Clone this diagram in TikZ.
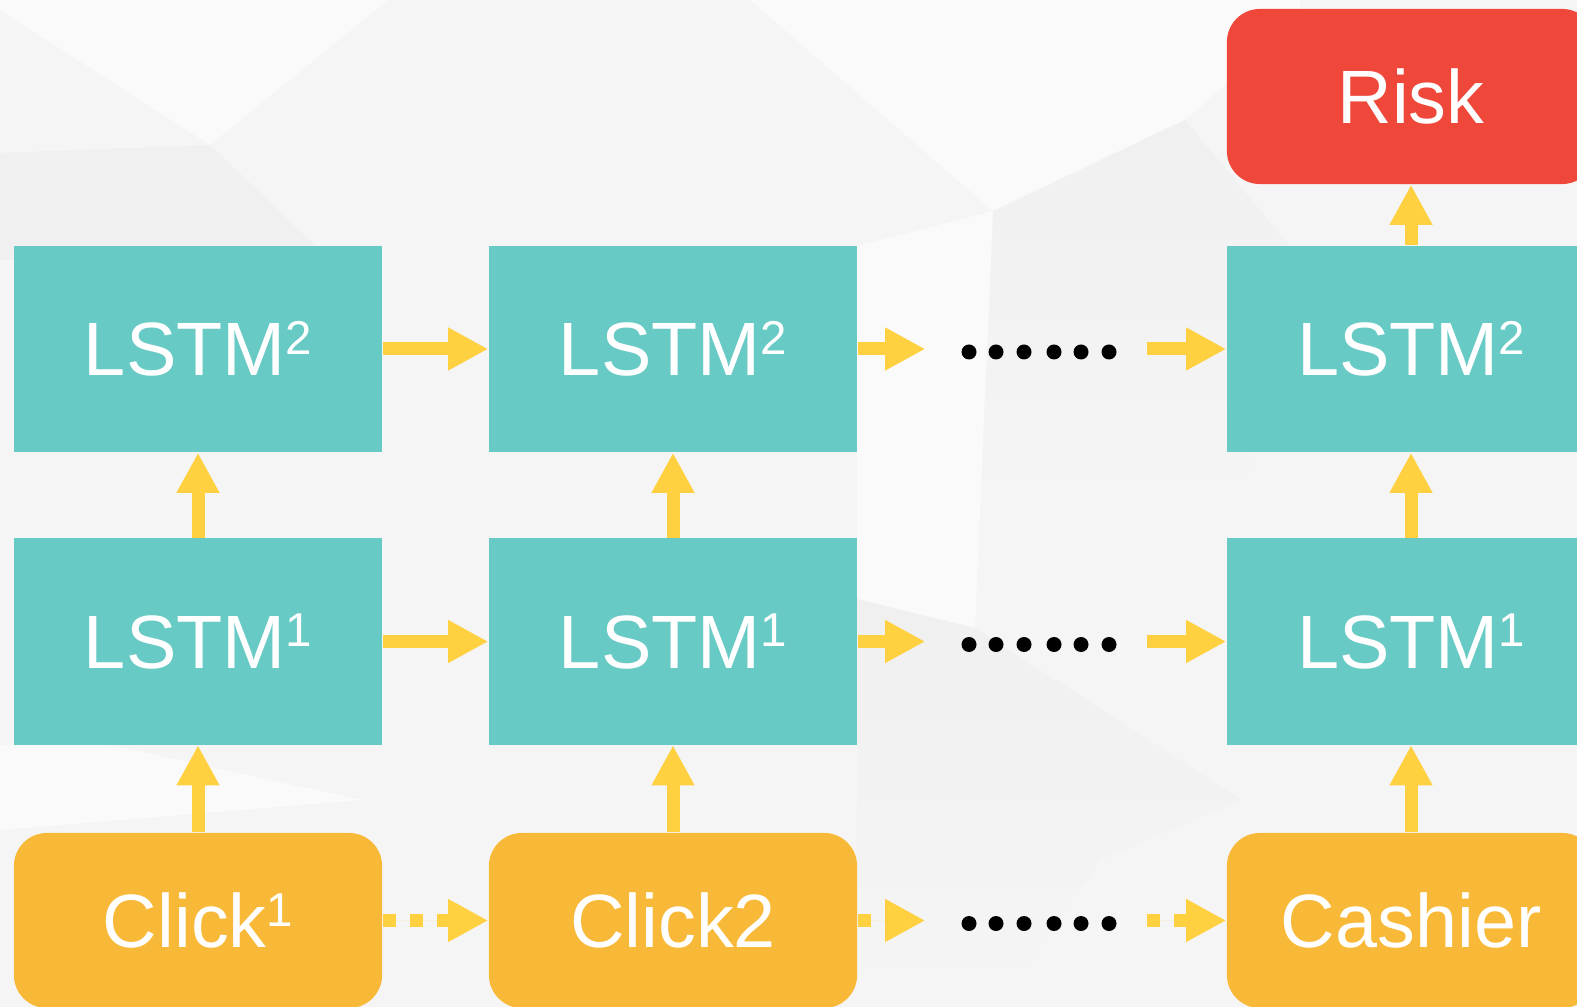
\documentclass[tikz,border=0pt]{standalone}
\usepackage{fontspec}
\setmainfont{Liberation Sans}
\usetikzlibrary{arrows.meta}
\definecolor{LstmTeal}{RGB}{104,202,196}
\definecolor{ClickOrange}{RGB}{248,184,56}
\definecolor{RiskRed}{RGB}{239,71,58}
\definecolor{ArrowYellow}{RGB}{255,208,64}
\definecolor{BgGray}{RGB}{245,245,246}
\definecolor{BgLight}{RGB}{250,250,250}
\definecolor{BgDark}{RGB}{240,240,241}
\newcommand{\upidx}[1]{\raisebox{0.28em}{\fontsize{13.5}{14}\selectfont #1}}

\begin{document}
\begin{tikzpicture}[x=0.01cm, y=-0.01cm, font=\fontsize{21.5}{26}\selectfont,
  lstm/.style={fill=LstmTeal, text=white, inner sep=0pt,
               minimum width=3.68cm, minimum height=2.06cm},
  inp/.style={fill=ClickOrange, text=white, inner sep=0pt, rounded corners=3.3mm,
              minimum width=3.68cm, minimum height=1.75cm},
  riskbox/.style={inp, fill=RiskRed},
  gapnode/.style={inner sep=0pt, minimum width=2.2cm},
  flow/.style={-{Triangle[length=4mm, width=4mm]}, line width=1.3mm, draw=ArrowYellow, fill=ArrowYellow},
  seq/.style={flow, dash pattern=on 1.35mm off 1.35mm}]
  \path[use as bounding box, clip] (0,0) rectangle (1577,1007);
  % low-poly backdrop
  \fill[BgGray] (0,0) rectangle (1577,1007);
  \fill[BgLight] (0,0) -- (0,10) -- (210,145) -- (388,0) -- cycle;
  \fill[BgLight] (750,0) -- (993,211) -- (1185,120) -- (1300,20) -- (1300,0) -- cycle;
  \fill[BgDark] (0,153) -- (210,145) -- (330,260) -- (0,260) -- cycle;
  \shade[top color=BgDark, bottom color=BgGray]
    (993,211) -- (1185,120) -- (1290,246) -- (1240,520) -- (980,520) -- cycle;
  \fill[BgLight] (857,246) -- (993,211) -- (975,628) -- (857,599) -- cycle;
  \shade[top color=BgDark, bottom color=BgGray]
    (857,599) -- (975,628) -- (1242,800) -- (1100,860) -- (1000,1007) -- (857,1007) -- cycle;
  \fill[BgLight] (0,745) -- (110,745) -- (362,800) -- (0,830) -- cycle;

  \node[riskbox] (risk) at (1411,96.5) {Risk};
  \node[lstm] (l2a) at (198,349)   {LSTM\upidx{2}};
  \node[lstm] (l2b) at (673,349)   {LSTM\upidx{2}};
  \node[lstm] (l2c) at (1411,349)  {LSTM\upidx{2}};
  \node[lstm] (l1a) at (198,641.5)  {LSTM\upidx{1}};
  \node[lstm] (l1b) at (673,641.5)  {LSTM\upidx{1}};
  \node[lstm] (l1c) at (1411,641.5) {LSTM\upidx{1}};
  \node[inp] (ca) at (198,920.5)  {Click\upidx{1}};
  \node[inp] (cb) at (673,920.5)  {Click2};
  \node[inp] (cc) at (1411,920.5) {Cashier};
  \node[gapnode] (g2) at (1036,349) {};
  \node[gapnode] (g1) at (1036,641.5) {};
  \node[gapnode] (g0) at (1036,920.5) {};

  \foreach \g in {g2,g1,g0}
    \foreach \dx in {-67,-40,-12,18,45,73}
      \fill (\g) ++(\dx,3) circle (0.75mm);

  \foreach \row in {2,1} {
    \draw[flow] (l\row a) -- (l\row b);
    \draw[flow] (l\row b) -- (g\row);
    \draw[flow] (g\row) -- (l\row c);
  }
  \draw[seq] (ca) -- (cb);
  \draw[seq] (cb) -- (g0);
  \draw[seq] (g0) -- (cc);
  \foreach \col in {a,b,c} {
    \draw[flow] (c\col) -- (l1\col);
    \draw[flow] (l1\col) -- (l2\col);
  }
  \draw[flow] (l2c) -- (risk);
\end{tikzpicture}
\end{document}
